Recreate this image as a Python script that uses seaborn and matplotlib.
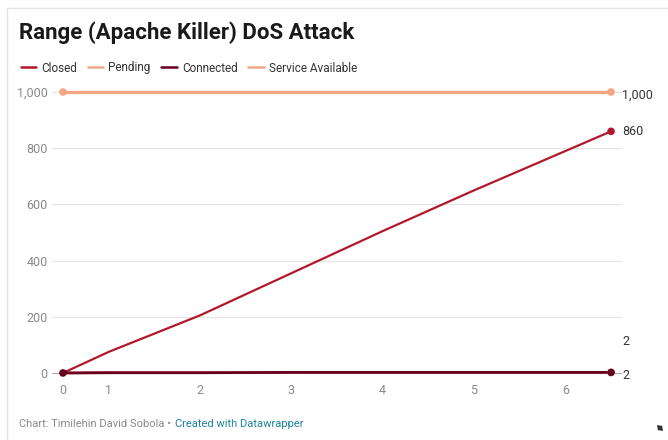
import matplotlib
matplotlib.use("Agg")
import matplotlib.pyplot as plt
import seaborn as sns
import pandas as pd
from matplotlib.lines import Line2D
from matplotlib.patches import Rectangle

# ---- data ----
x_values = [0, 0.5, 1.5, 2.5, 3.5, 4.5, 5.5, 6]
closed = [0, 75, 205, 355, 505, 650, 790, 860]
pending = [0, 1, 1, 2, 2, 2, 2, 2]
connected = [0, 1, 1, 2, 2, 2, 2, 2]
service_available = [1000, 1000, 1000, 1000, 1000, 1000, 1000, 1000]
series_names = ["Closed", "Pending", "Connected", "Service Available"]
x_ticks = [0, 0.5, 1.5, 2.5, 3.5, 4.5, 5.5]
x_tick_labels = ["0", "1", "2", "3", "4", "5", "6"]
y_ticks = [0, 200, 400, 600, 800, 1000]
y_tick_labels = ["0", "200", "400", "600", "800", "1,000"]
end_labels = ["860", "2", "2", "1,000"]

colors = {"Closed": "#b2182b", "Pending": "#f4a582",
          "Connected": "#67001f", "Service Available": "#f4a582"}
widths = {"Closed": 1.6, "Pending": 2.0, "Connected": 2.0, "Service Available": 2.4}

values = {"Closed": closed, "Pending": pending, "Connected": connected,
          "Service Available": service_available}
rows = []
for name in series_names:
    for xv, yv in zip(x_values, values[name]):
        rows.append({"x": xv, "value": yv, "series": name})
df = pd.DataFrame(rows)

sns.set_theme(style="white")
plt.rcParams['font.family'] = ['Roboto', 'DejaVu Sans']

fig = plt.figure(figsize=(6.68, 4.40), dpi=100)
fig.patch.set_facecolor("white")

# card border
fig.patches.append(Rectangle((7/668, -0.1), 1.2, 1 - 8/440 + 0.1, transform=fig.transFigure,
                             fill=False, edgecolor="#e4e4e4", linewidth=1.0))

ax = fig.add_axes([52/668, 60/440, 570/668, 295/440])
ax.set_facecolor("none")

draw_order = ["Service Available", "Pending", "Closed", "Connected"]
for name in draw_order:
    sub = df[df.series == name]
    sns.lineplot(data=sub, x="x", y="value", color=colors[name], lw=widths[name],
                 ax=ax, legend=False, zorder=3)

# endpoint markers
for name in draw_order:
    sub = df[df.series == name]
    last = sub.iloc[[-1]]
    sns.scatterplot(data=last, x="x", y="value", color=colors[name], s=30,
                    edgecolor="none", ax=ax, legend=False, zorder=4)
for name in ["Service Available", "Connected"]:
    sub = df[df.series == name]
    first = sub.iloc[[0]]
    sns.scatterplot(data=first, x="x", y="value", color=colors[name], s=30,
                    edgecolor="none", ax=ax, legend=False, zorder=4)

# end labels
label_offsets = {"Closed": (8, 0), "Pending": (8, 22), "Connected": (8, -2),
                 "Service Available": (8, -2)}
for name, lab in zip(series_names, end_labels):
    sub = df[df.series == name]
    ax.annotate(lab, xy=(sub.x.iloc[-1], sub.value.iloc[-1]),
                xytext=label_offsets[name], textcoords="offset points",
                ha="left", va="center", fontsize=9, color="#333333", zorder=5)

ax.set_xlim(-0.12, 6.12)
ax.set_ylim(-25, 1025)
ax.set_yticks(y_ticks)
ax.set_yticklabels(y_tick_labels)
ax.set_xticks(x_ticks)
ax.set_xticklabels(x_tick_labels)
ax.tick_params(axis="both", length=0, labelsize=9, labelcolor="#8a8a8a")
ax.tick_params(axis="y", pad=3)
ax.tick_params(axis="x", pad=3)
ax.set_xlabel("")
ax.set_ylabel("")
for s in ax.spines.values():
    s.set_visible(False)
for yv in y_ticks:
    ax.axhline(yv, color="#aaaaaa" if yv == 0 else "#e6e6e6", lw=0.8, zorder=1)

# title
fig.text(19/668, 1 - 33/440, "Range (Apache Killer) DoS Attack", fontsize=16,
         fontweight="bold", color="#1a1a1a", ha="left", va="center")

# legend
handles = [Line2D([0], [0], color=colors[n], lw=1.8) for n in series_names]
fig.legend(handles, series_names, loc="center left", bbox_to_anchor=(10/668, 1 - 68/440),
           ncol=4, frameon=False, fontsize=8.5, handlelength=1.3, handletextpad=0.45,
           columnspacing=0.9, labelcolor="#333333")

# footer
fig.text(19/668, 1 - 424/440, "Chart: Timilehin David Sobola \u2022 ", fontsize=8,
         color="#8a8a8a", ha="left", va="center")
fig.text(175/668, 1 - 424/440, "Created with Datawrapper", fontsize=8,
         color="#1d81a2", ha="left", va="center")

# expand icon (no installed font has the glyph) drawn as a small double arrow
fig.add_artist(matplotlib.patches.FancyArrowPatch(
    (655/668, 1 - 423/440), (665/668, 1 - 433/440), transform=fig.transFigure,
    arrowstyle="<|-|>,head_length=2.2,head_width=1.4", color="#333333", lw=1.2))

fig.savefig("out.png", dpi=100, facecolor="white")
